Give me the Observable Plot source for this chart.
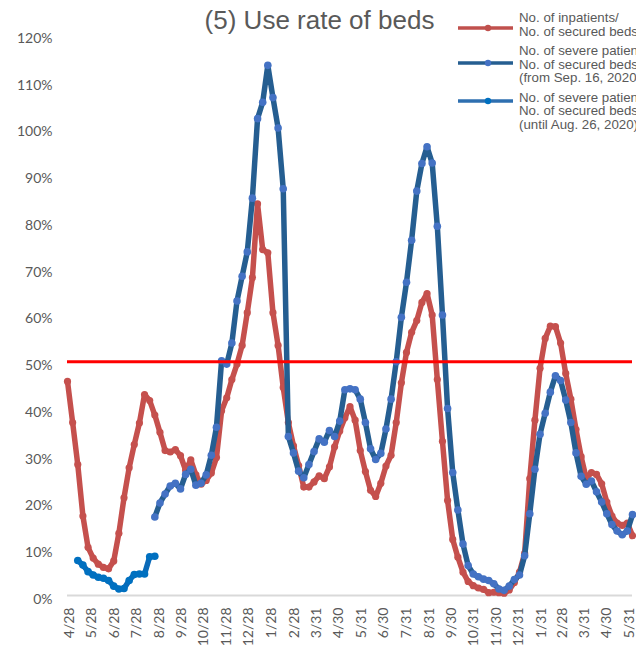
<!DOCTYPE html>
<html>
<head>
<meta charset="utf-8">
<script src="https://cdn.jsdelivr.net/npm/d3@7"></script>
<script src="https://cdn.jsdelivr.net/npm/@observablehq/plot@0.6"></script>
<style>
  html, body { margin: 0; padding: 0; background: #fff; }
  #wrap { position: relative; width: 636px; height: 650px; overflow: hidden; }
  #chart { position: absolute; left: 0; top: 0; }
  #title { position: absolute; left: 0; width: 639px; top: 7px; text-align: center;
           font-family: "Liberation Sans", Arial, sans-serif; font-size: 26px; line-height: 26px; color: #595959; white-space: nowrap; }
  .lg-text { position: absolute; left: 519px; font-family: "Liberation Sans", Arial, sans-serif;
             font-size: 13.3px; line-height: 13.7px; color: #595959; white-space: nowrap; }
  .lg-swatch { position: absolute; left: 456px; width: 60px; height: 10px; }
</style>
</head>
<body>
<div id="wrap">
  <div id="chart"></div>
  <div id="title"></div>
  <div id="legend"></div>
</div>
<script>
// ---- data (weekly points) ----
const firstWeek = "2020-04-25";
const lastWeek = "2022-06-04";

// No. of inpatients / No. of secured beds (%), weeks 0..110
const inpatientRate = [
  45.8, 37.0, 28.0, 17.0, 10.3, 8.0, 6.7, 6.0, 5.7, 7.4,
  13.3, 20.9, 27.3, 32.3, 36.9, 43.0, 41.7, 38.6, 34.9, 31.0,
  30.7, 31.2, 29.9, 26.8, 29.0, 25.8, 23.8, 24.6, 26.2, 29.5,
  39.5, 42.3, 46.2, 49.5, 53.5, 60.5, 68.0, 83.8, 74.0, 73.3,
  60.5, 53.5, 44.5, 37.0, 32.0, 27.8, 23.2, 23.2, 24.3, 25.6,
  25.0, 27.5, 31.8, 35.2, 38.0, 40.4, 37.5, 31.0, 26.5, 22.5,
  21.2, 24.0, 27.7, 30.0, 37.0, 45.5, 52.0, 56.3, 58.8, 62.7,
  64.6, 60.0, 46.2, 33.0, 20.3, 12.0, 8.2, 5.0, 3.0, 2.1,
  1.6, 1.3, 0.6, 0.7, 0.6, 0.5, 1.2, 2.8, 5.0, 9.0,
  25.0, 37.5, 48.6, 55.0, 57.6, 57.5, 54.0, 47.5, 42.0, 35.5,
  29.7, 25.0, 26.3, 25.9, 23.9, 20.0, 17.0, 15.5, 15.0, 15.5,
  12.8
];

// No. of severe patients / No. of secured beds (from Sep. 16, 2020), weeks 17..110
const severeStart = 17;
const severeRate = [
  16.8, 19.8, 21.7, 23.4, 24.0, 22.8, 25.9, 27.0, 23.6, 24.0,
  25.8, 30.0, 36.0, 50.2, 49.5, 54.0, 63.0, 68.3, 73.5, 85.0,
  102.0, 105.5, 113.4, 106.5, 100.0, 87.0, 34.0, 30.5, 26.6, 25.2,
  28.0, 30.8, 33.5, 32.8, 35.3, 34.0, 37.3, 44.0, 44.2, 44.0,
  42.0, 37.0, 31.4, 29.1, 30.4, 35.6, 42.0, 50.0, 59.5, 67.0,
  76.0, 86.5, 92.4, 96.0, 92.5, 79.0, 60.0, 40.0, 26.3, 18.3,
  11.0, 6.4, 4.6, 4.0, 3.5, 3.2, 2.5, 1.4, 1.1, 2.0,
  3.4, 4.4, 8.5, 17.5, 27.0, 34.5, 39.0, 43.5, 47.0, 46.0,
  41.8, 37.0, 30.5, 25.5, 23.8, 24.5, 22.2, 20.0, 17.5, 15.2,
  13.8, 13.0, 13.8, 17.3
];

// No. of severe patients / No. of secured beds (until Aug. 26, 2020), weeks 2..17
const severeEarlyStart = 2;
const severeEarlyRate = [7.5, 6.5, 5.1, 4.4, 3.9, 3.7, 3.2, 2.0, 1.4, 1.5, 3.2, 4.5, 4.6, 4.6, 8.3, 8.4];

const thresholdLine = [50];
const yTicks = [0, 10, 20, 30, 40, 50, 60, 70, 80, 90, 100, 110, 120];
const xTickDates = [
  "2020-04-28", "2020-05-28", "2020-06-28", "2020-07-28", "2020-08-28", "2020-09-28",
  "2020-10-28", "2020-11-28", "2020-12-28", "2021-01-28", "2021-02-28", "2021-03-31",
  "2021-04-30", "2021-05-31", "2021-06-30", "2021-07-31", "2021-08-31", "2021-09-30",
  "2021-10-31", "2021-11-30", "2021-12-31", "2022-01-31", "2022-02-28", "2022-03-31",
  "2022-04-30", "2022-05-31"
];

const titleText = "(5) Use rate of beds";
const legendItems = [
  {lines: ["No. of inpatients/", "No. of secured beds"], line: "#c0504d", dot: "#c0504d"},
  {lines: ["No. of severe patients/", "No. of secured beds", "(from Sep. 16, 2020)"], line: "#255e91", dot: "#4472c4"},
  {lines: ["No. of severe patients/", "No. of secured beds", "(until Aug. 26, 2020)"], line: "#2e6fb0", dot: "#0070c0"}
];

// ---- build tables ----
const weeks = d3.utcSaturday.range(new Date(firstWeek), d3.utcDay.offset(new Date(lastWeek), 1));
const red = inpatientRate.map((v, i) => ({date: weeks[i], v}));
const severe = severeRate.map((v, i) => ({date: weeks[severeStart + i], v}));
const severeEarly = severeEarlyRate.map((v, i) => ({date: weeks[severeEarlyStart + i], v}));

const chart = Plot.plot({
  width: 636,
  height: 650,
  marginLeft: 67,
  marginRight: 4,
  marginTop: 34,
  marginBottom: 55,
  style: {fontFamily: "Lato, sans-serif", fontSize: "14px", color: "#595959", background: "transparent", overflow: "visible"},
  x: {type: "utc", domain: [new Date(firstWeek), new Date(lastWeek)]},
  y: {domain: [0, 120]},
  marks: [
    Plot.axisX({ticks: xTickDates.map(d => new Date(d)), tickFormat: d3.utcFormat("%-m/%-d"), tickRotate: -90, tickSize: 0, tickPadding: 12, label: null, fontSize: 14}),
    Plot.axisY({ticks: yTicks, tickFormat: d => d + "%", tickSize: 0, tickPadding: 15, label: null, dy: 4, fontSize: 14}),
    Plot.ruleY([0], {stroke: "#d9d9d9", strokeWidth: 2}),
    Plot.line(red, {x: "date", y: "v", stroke: "#c5504d", strokeWidth: 5.5, curve: "linear"}),
    Plot.dot(red, {x: "date", y: "v", r: 3.6, fill: "#c5504d"}),
    Plot.line(severeEarly, {x: "date", y: "v", stroke: "#0a6ab8", strokeWidth: 5.5}),
    Plot.dot(severeEarly, {x: "date", y: "v", r: 3.8, fill: "#0070c0"}),
    Plot.line(severe, {x: "date", y: "v", stroke: "#255e91", strokeWidth: 5.5}),
    Plot.dot(severe, {x: "date", y: "v", r: 3.8, fill: "#4472c4"}),
    Plot.ruleY(thresholdLine, {stroke: "#ff0000", strokeWidth: 3})
  ]
});
document.getElementById("chart").appendChild(chart);
document.getElementById("title").textContent = titleText;

// legend
const legend = document.getElementById("legend");
const textTops = [11, 44, 90.5];
const swatchY = [28.3, 63.3, 101];
legendItems.forEach((it, k) => {
  const t = document.createElement("div");
  t.className = "lg-text";
  t.style.top = textTops[k] + "px";
  t.innerHTML = it.lines.map(s => s.replace(/&/g, "&amp;")).join("<br>");
  legend.appendChild(t);
  const ns = "http://www.w3.org/2000/svg";
  const svg = document.createElementNS(ns, "svg");
  svg.setAttribute("class", "lg-swatch");
  svg.setAttribute("width", 60);
  svg.setAttribute("height", 10);
  svg.style.top = (swatchY[k] - 5) + "px";
  const ln = document.createElementNS(ns, "line");
  ln.setAttribute("x1", 2); ln.setAttribute("x2", 57);
  ln.setAttribute("y1", 5); ln.setAttribute("y2", 5);
  ln.setAttribute("stroke", it.line); ln.setAttribute("stroke-width", 3.5);
  svg.appendChild(ln);
  const c = document.createElementNS(ns, "circle");
  c.setAttribute("cx", 32); c.setAttribute("cy", 5); c.setAttribute("r", 3.2);
  c.setAttribute("fill", it.dot);
  svg.appendChild(c);
  legend.appendChild(svg);
});
</script>
</body>
</html>
